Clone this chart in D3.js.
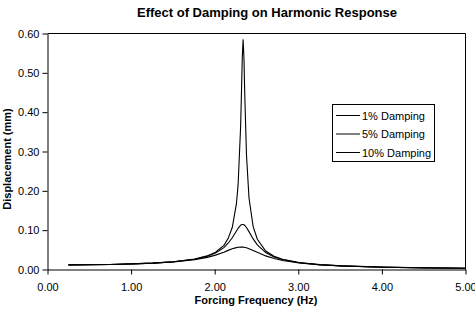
<!DOCTYPE html>
<html><head><meta charset="utf-8">
<script src="https://cdn.jsdelivr.net/npm/d3@7"></script>
<style>
body{margin:0;background:#fff;}
svg{display:block;font-family:"Liberation Sans",Arial,sans-serif;}
</style></head>
<body><svg id="c" width="475" height="325"></svg>
<script>
const freq = [0.25,0.50,0.75,1.00,1.26,1.51,1.76,1.91,2.01,2.11,2.16,2.21,2.26,2.28,2.31,2.32,2.33,2.34,2.35,2.36,2.38,2.41,2.46,2.51,2.61,2.71,2.81,3.01,3.26,3.52,4.02,4.52,5.00];
const damp1 = [0.0117,0.0122,0.0129,0.0142,0.0163,0.0198,0.0266,0.0346,0.0440,0.0615,0.0785,0.1067,0.1673,0.2157,0.3630,0.4478,0.5400,0.5850,0.5360,0.4415,0.2923,0.1825,0.1091,0.0769,0.0471,0.0338,0.0261,0.0176,0.0123,0.0092,0.0060,0.0043,0.0032];
const damp5 = [0.0117,0.0122,0.0129,0.0142,0.0162,0.0197,0.0262,0.0336,0.0419,0.0557,0.0668,0.0808,0.0980,0.1048,0.1125,0.1138,0.1145,0.1143,0.1135,0.1119,0.1068,0.0963,0.0778,0.0627,0.0431,0.0321,0.0252,0.0173,0.0121,0.0092,0.0059,0.0042,0.0032];
const damp10 = [0.0117,0.0122,0.0129,0.0141,0.0161,0.0194,0.0252,0.0309,0.0365,0.0440,0.0486,0.0526,0.0556,0.0564,0.0570,0.0571,0.0570,0.0568,0.0565,0.0561,0.0551,0.0530,0.0486,0.0437,0.0346,0.0278,0.0229,0.0164,0.0118,0.0090,0.0059,0.0042,0.0032];
const seriesNames = ["1% Damping","5% Damping","10% Damping"];
const xTicks = [0,1,2,3,4,5];
const yTicks = [0,0.1,0.2,0.3,0.4,0.5,0.6];

const svg = d3.select("#c");
const L = 47.5, R = 465.5, T = 33.5, B = 269.5;
const x = d3.scaleLinear().domain([0,5]).range([L,R]);
const y = d3.scaleLinear().domain([0,0.6]).range([B,T]);

// frame
svg.append("path").attr("d",`M${L},${T}H${R}V${B}`).attr("fill","none").attr("stroke","#000").attr("stroke-width",1);

const ya = svg.append("g").attr("transform",`translate(${L},0)`)
  .call(d3.axisLeft(y).tickValues(yTicks).tickFormat(d3.format(".2f")).tickSize(5).tickSizeOuter(0).tickPadding(3));
const xa = svg.append("g").attr("transform",`translate(0,${B})`)
  .call(d3.axisBottom(x).tickValues(xTicks).tickFormat(d3.format(".2f")).tickSize(5).tickSizeOuter(0).tickPadding(9));
[ya,xa].forEach(a=>{
  a.selectAll("text").attr("font-size","11px").attr("fill","#000").attr("font-family","'Liberation Sans',Arial,sans-serif");
  a.selectAll("line,path").attr("stroke","#000");
});

const line = d3.line().x((d,i)=>x(freq[i])).y(d=>y(d));
[damp1,damp5,damp10].forEach(s=>{
  svg.append("path").attr("d",line(s)).attr("fill","none").attr("stroke","#000").attr("stroke-width",1.1);
});

// title & labels
svg.append("text").attr("x",267).attr("y",17).attr("text-anchor","middle")
  .attr("font-size","13px").attr("font-weight","bold").text("Effect of Damping on Harmonic Response");
svg.append("text").attr("x",256).attr("y",304).attr("text-anchor","middle")
  .attr("font-size","11px").attr("font-weight","bold").text("Forcing Frequency (Hz)");
svg.append("text").attr("transform","translate(11,159) rotate(-90)").attr("text-anchor","middle")
  .attr("font-size","11px").attr("font-weight","bold").text("Displacement (mm)");

// legend
const lg = svg.append("g");
lg.append("rect").attr("x",332.5).attr("y",104.5).attr("width",102).attr("height",57)
  .attr("fill","#fff").attr("stroke","#000");
seriesNames.forEach((n,i)=>{
  const yy = 115.5 + i*18.5;
  lg.append("line").attr("x1",336).attr("x2",360).attr("y1",yy).attr("y2",yy).attr("stroke","#000");
  lg.append("text").attr("x",362).attr("y",yy+4).attr("font-size","11px").text(n);
});
</script></body></html>
